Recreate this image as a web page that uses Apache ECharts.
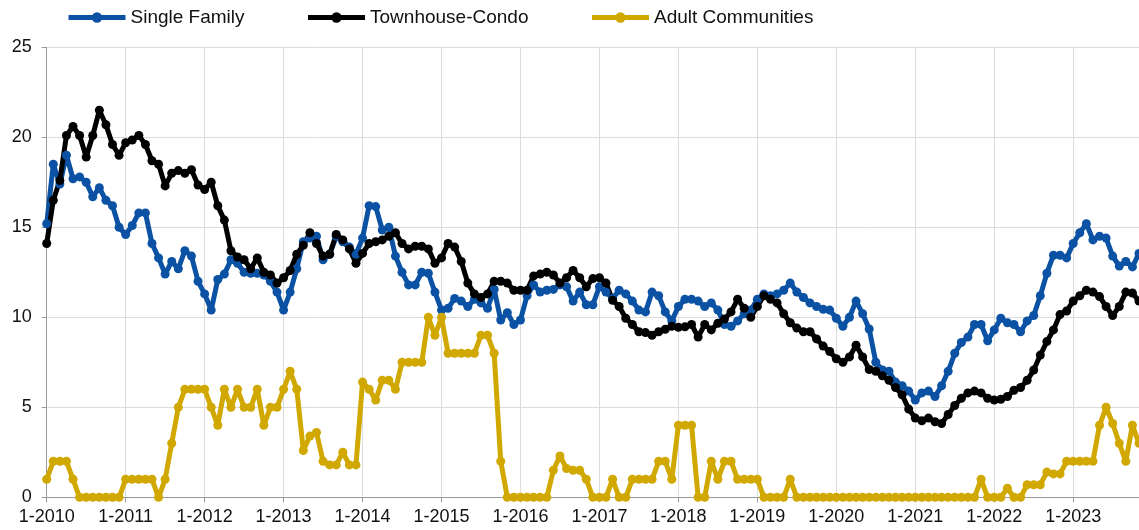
<!DOCTYPE html>
<html>
<head>
<meta charset="utf-8">
<script src="https://cdn.jsdelivr.net/npm/echarts@6/dist/echarts.min.js"></script>
<style>
html,body{margin:0;padding:0;background:#fff;}
#chart{width:1139px;height:530px;}
</style>
</head>
<body>
<div id="chart"></div>
<script>
// Year tick labels (one tick every 12 months starting at month index 0 = Jan 2010)
const tickLabels = ['1-2010','1-2011','1-2012','1-2013','1-2014','1-2015','1-2016',
  '1-2017','1-2018','1-2019','1-2020','1-2021','1-2022','1-2023'];

const seriesNames = ['Single Family', 'Townhouse-Condo', 'Adult Communities'];

// Monthly values, Jan 2010 .. Nov 2023 (one row per year)
const singleFamily = [
  15.2,18.5,17.4,19.0,17.7,17.8,17.5,16.7,17.2,16.5,16.2,15.0,
  14.6,15.1,15.8,15.8,14.1,13.3,12.4,13.1,12.7,13.7,13.4,12.0,
  11.3,10.4,12.1,12.4,13.2,13.0,12.5,12.45,12.45,12.35,12.0,11.4,
  10.4,11.4,12.7,14.2,14.4,14.5,13.2,13.5,14.5,14.2,13.9,13.5,
  14.4,16.2,16.15,14.85,15.0,13.4,12.5,11.8,11.8,12.5,12.45,11.4,
  10.4,10.5,11.05,10.9,10.6,11.0,10.8,10.5,11.55,9.85,10.25,9.6,
  9.85,11.2,11.8,11.4,11.5,11.55,11.8,11.7,10.9,11.4,10.7,10.7,
  11.7,11.4,11.05,11.5,11.3,10.9,10.4,10.3,11.4,11.2,10.3,9.8,
  10.6,11.0,11.0,10.9,10.6,10.8,10.4,9.6,9.5,9.8,10.2,10.4,
  11.0,11.3,11.2,11.3,11.5,11.9,11.4,11.1,10.8,10.6,10.45,10.4,
  9.95,9.5,10.0,10.9,10.2,9.35,7.5,7.07,7.0,6.4,6.2,5.9,
  5.4,5.8,5.9,5.6,6.2,7.0,8.0,8.6,8.9,9.6,9.6,8.7,
  9.3,9.95,9.7,9.6,9.2,9.8,10.1,11.2,12.45,13.45,13.45,13.3,
  14.1,14.7,15.2,14.3,14.5,14.4,13.4,12.85,13.1,12.8,13.55
];

const townhouseCondo = [
  14.1,16.5,17.6,20.1,20.6,20.1,18.9,20.1,21.5,20.7,19.6,19.0,
  19.7,19.85,20.1,19.6,18.7,18.5,17.3,18.0,18.15,18.0,18.2,17.35,
  17.1,17.5,16.2,15.4,13.7,13.35,13.2,12.7,13.3,12.5,12.35,11.9,
  12.2,12.6,13.5,14.0,14.7,14.1,13.4,13.5,14.6,14.3,13.8,13.0,
  13.55,14.1,14.2,14.3,14.5,14.7,14.1,13.8,13.95,13.95,13.8,13.0,
  13.3,14.1,13.9,13.1,11.9,11.3,11.1,11.3,12.0,12.0,11.9,11.5,
  11.5,11.5,12.3,12.4,12.5,12.35,11.9,12.2,12.6,12.2,11.7,12.15,
  12.2,11.9,10.95,10.6,9.95,9.6,9.2,9.15,9.0,9.2,9.33,9.5,
  9.45,9.47,9.6,8.9,9.6,9.3,9.67,9.9,10.3,11.0,10.5,10.0,
  10.6,11.2,11.0,10.8,10.2,9.7,9.4,9.2,9.2,8.8,8.4,8.1,
  7.7,7.5,7.8,8.45,7.8,7.1,7.0,6.75,6.5,6.1,5.7,4.9,
  4.4,4.25,4.4,4.2,4.1,4.6,5.1,5.5,5.8,5.9,5.8,5.5,
  5.4,5.45,5.6,5.95,6.1,6.5,7.07,7.9,8.65,9.3,10.15,10.35,
  10.9,11.2,11.5,11.4,11.15,10.6,10.1,10.6,11.4,11.35,10.9
];

const adultCommunities = [
  1,2,2,2,1,0,0,0,0,0,0,0,
  1,1,1,1,1,0,1,3,5,6,6,6,
  6,5,4,6,5,6,5,5,6,4,5,5,
  6,7,6,2.6,3.4,3.6,2.0,1.8,1.8,2.5,1.8,1.8,
  6.4,6.0,5.4,6.5,6.5,6.0,7.5,7.5,7.5,7.5,10,9,
  10,8,8,8,8,8,9,9,8,2,0,0,
  0,0,0,0,0,1.5,2.3,1.6,1.5,1.5,1,0,
  0,0,1,0,0,1,1,1,1,2,2,1,
  4,4,4,0,0,2,1,2,2,1,1,1,
  1,0,0,0,0,1,0,0,0,0,0,0,
  0,0,0,0,0,0,0,0,0,0,0,0,
  0,0,0,0,0,0,0,0,0,0,1,0,
  0,0,0.5,0,0,0.7,0.7,0.7,1.4,1.3,1.3,2,
  2,2,2,2,4,5,4.1,3,2,4,3
];

const colors = ['#0B52A4', '#000000', '#D1A800'];
const allValues = [singleFamily, townhouseCondo, adultCommunities];

const chart = echarts.init(document.getElementById('chart'), null, {renderer: 'canvas'});
const font = 'Liberation Sans, Arial, Helvetica, sans-serif';

chart.setOption({
  animation: false,
  backgroundColor: '#fff',
  legend: {
    left: 66, top: 8, padding: 0,
    itemWidth: 57, itemHeight: 13, itemGap: 61,
    lineStyle: {width: 5},
    textStyle: {fontFamily: font, fontSize: 19, color: '#111'},
    data: seriesNames
  },
  grid: {left: 46.7, right: -1.2, top: 47.3, bottom: 32.7, containLabel: false},
  xAxis: {
    type: 'value', min: 0, max: 166, interval: 12,
    axisLine: {show: true, lineStyle: {color: '#999', width: 1}},
    axisTick: {show: true, length: 5, lineStyle: {color: '#999'}},
    axisLabel: {
      fontFamily: font, fontSize: 18, color: '#111', margin: 11,
      showMaxLabel: false,
      formatter: v => (v % 12 === 0 ? tickLabels[v / 12] : '')
    },
    splitLine: {show: true, lineStyle: {color: '#dcdcdc', width: 1}}
  },
  yAxis: {
    type: 'value', min: 0, max: 25, interval: 5,
    axisLine: {show: true, lineStyle: {color: '#999', width: 1}},
    axisTick: {show: true, length: 5, lineStyle: {color: '#999'}},
    axisLabel: {fontFamily: font, fontSize: 18, color: '#111', margin: 15},
    splitLine: {show: true, lineStyle: {color: '#dcdcdc', width: 1}}
  },
  series: seriesNames.map((name, k) => ({
    name: name,
    type: 'line',
    data: allValues[k].map((v, i) => [i, v]),
    symbol: 'circle',
    symbolSize: 9,
    showSymbol: true,
    clip: true,
    lineStyle: {color: colors[k], width: 5},
    itemStyle: {color: colors[k]},
    emphasis: {disabled: true}
  }))
});
</script>
</body>
</html>
